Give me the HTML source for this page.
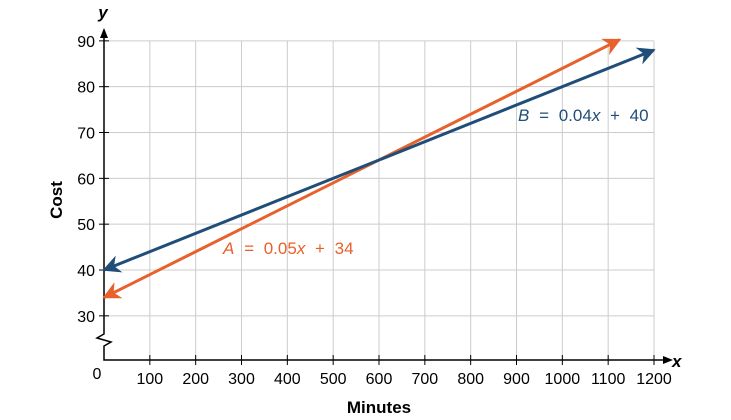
<!DOCTYPE html>
<html><head><meta charset="utf-8"><style>
body{margin:0;background:#fff;}
svg{display:block;font-family:"Liberation Sans",Arial,sans-serif;}
</style></head><body>
<svg width="731" height="420" viewBox="0 0 731 420">
<g id="grid"></g>
<g id="axes"></g>
<g id="lines"></g>
<text x="379" y="413" font-size="17" font-weight="bold" text-anchor="middle">Minutes</text>
<text transform="translate(62,200) rotate(-90)" font-size="17" font-weight="bold" text-anchor="middle">Cost</text>
<text x="103" y="18" font-size="17" font-weight="bold" font-style="italic" text-anchor="middle">y</text>
<text x="672" y="367" font-size="17" font-weight="bold" font-style="italic">x</text>
<text x="518" y="121" font-size="17" word-spacing="5" fill="#1f4e79"><tspan font-style="italic">B</tspan> = 0.04<tspan font-style="italic">x</tspan> + 40</text>
<text x="223" y="254" font-size="17" word-spacing="5" fill="#e8602c"><tspan font-style="italic">A</tspan> = 0.05<tspan font-style="italic">x</tspan> + 34</text>
</svg>
<script>
const xTicks=[100,200,300,400,500,600,700,800,900,1000,1100,1200];
const yTicks=[30,40,50,60,70,80,90];
const seriesNames=["A","B"];
const slopes=[0.05,0.04];
const intercepts=[34,40];
const xEnds=[1125,1200];
const colors=["#e8602c","#1f4e79"];
const NS="http://www.w3.org/2000/svg";
function X(v){return 104+v*(550/1200);}
function Y(v){return 270-(v-40)*4.583;}
function mk(tag,attrs,parent){const e=document.createElementNS(NS,tag);for(const k in attrs)e.setAttribute(k,attrs[k]);parent.appendChild(e);return e;}
const grid=document.getElementById('grid'),axes=document.getElementById('axes'),lines=document.getElementById('lines');
const svg=document.querySelector('svg');
const defs=mk('defs',{},svg);
colors.forEach((c,i)=>{const m=mk('marker',{id:'ar'+i,viewBox:'0 0 10 10',refX:'9',refY:'5',markerWidth:'6',markerHeight:'6',orient:'auto-start-reverse'},defs);mk('path',{d:'M0,0 L10,5 L0,10 L3,5 Z',fill:c},m);});
xTicks.forEach(t=>{const l=mk('line',{x1:X(t),x2:X(t),y1:41,y2:360,stroke:'#ccc','stroke-width':1},grid);


mk('line',{x1:X(t),x2:X(t),y1:355,y2:365,stroke:'#000'},axes);
const tx=mk('text',{x:X(t),y:384,'font-size':16,'text-anchor':'middle'},axes);tx.textContent=t;

});
yTicks.forEach(t=>{const l=mk('line',{x1:104,x2:654,y1:Y(t),y2:Y(t),stroke:'#ccc'},grid);


mk('line',{x1:99,x2:109,y1:Y(t),y2:Y(t),stroke:'#000'},axes);
const tx=mk('text',{x:95,y:Y(t)+6,'font-size':16,'text-anchor':'end'},axes);tx.textContent=t;

});
const z=mk('text',{x:97,y:379,'font-size':16,'text-anchor':'middle'},axes);z.textContent='0';


mk('path',{d:'M104,36 L104,334 L97,338 L111,342 L104,346 L104,360 L665,360',fill:'none',stroke:'#000','stroke-width':1.5},axes);
mk('path',{d:'M104,28 L100,38 L108,38 Z'},axes);
mk('path',{d:'M673,360 L663,356 L663,364 Z'},axes);
seriesNames.forEach((n,i)=>{const l=mk('line',{x1:X(0),y1:Y(intercepts[i]),x2:X(xEnds[i]),y2:Y(intercepts[i]+slopes[i]*xEnds[i]),stroke:colors[i],'stroke-width':3,'marker-start':'url(#ar'+i+')','marker-end':'url(#ar'+i+')'},lines);

});
</script>
</body></html>
